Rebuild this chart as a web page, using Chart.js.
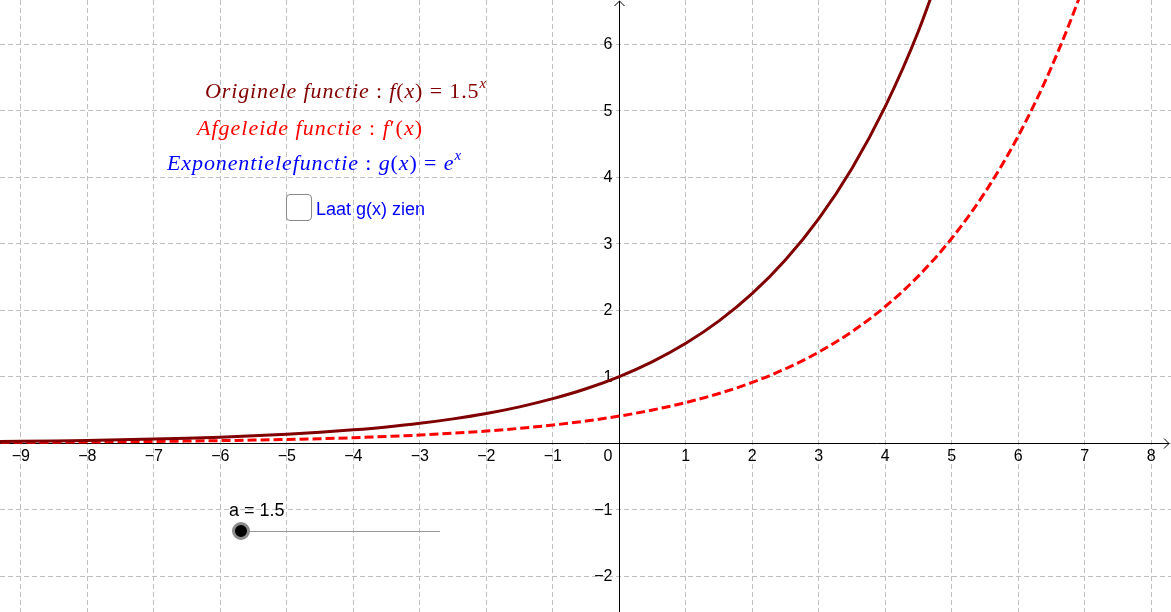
<!DOCTYPE html>
<html>
<head>
<title>Exponentiele functie</title>
<script src="https://cdn.jsdelivr.net/npm/chart.js"></script>
<style>
    body { margin: 0; background: #fff; }
    #wrap { position: relative; width: 1171px; height: 612px; overflow: hidden; }
    #grafiek { position: absolute; left: 0; top: 0; }
    .math { position: absolute; font-family: "Liberation Serif", "DejaVu Serif", serif; font-size: 22px; line-height: 1; white-space: nowrap; }
    .math sup { font-size: 15px; font-style: italic; vertical-align: 0; position: relative; top: -10px; line-height: 0; }
    .sans { position: absolute; font-family: "Liberation Sans", Arial, sans-serif; font-size: 18px; line-height: 1; white-space: nowrap; }
    #vakje { position: absolute; left: 286px; top: 194px; width: 26px; height: 27px; box-sizing: border-box; border: 1.5px solid #8a8a8a; border-radius: 4px; background: #fff; }
    #lijn { position: absolute; left: 241px; top: 531px; width: 199px; height: 1px; background: #999; }
    #knop { position: absolute; left: 232px; top: 522px; width: 12px; height: 12px; border: 3px solid #8c8c8c; border-radius: 50%; background: #000; }
</style>
</head>
<body>
<div id="wrap">
    <canvas id="grafiek" width="1171" height="612"></canvas>
    <div class="math" id="t1" style="left:205px; top:80px; color:#800000"><i>Originele functie</i> : <i>f</i>(<i>x</i>) = 1.5<sup>x</sup></div>
    <div class="math" id="t2" style="left:197px; top:117px; color:#ff0000"><i>Afgeleide functie</i> : <i>f</i>′(<i>x</i>)</div>
    <div class="math" id="t3" style="left:167px; top:152px; color:#0000ff"><i>Exponentielefunctie</i> : <i>g</i>(<i>x</i>) = <i>e</i><sup>x</sup></div>
    <div id="vakje"></div>
    <div class="sans" style="left:316px; top:200px; color:#0000ff">Laat g(x) zien</div>
    <div class="sans" style="left:229px; top:501px; color:#000">a = 1.5</div>
    <div id="lijn"></div>
    <div id="knop"></div>
</div>

<script>
    var xWaarden = [-9.5, -9, -8.5, -8, -7.5, -7, -6.5, -6, -5.5, -5, -4.5, -4, -3.5, -3, -2.5, -2, -1.5, -1, -0.5,
                    0, 0.5, 1, 1.5, 2, 2.5, 3, 3.5, 4, 4.5, 5, 5.5, 6, 6.5, 7, 7.5];
    var origineel = [0.021, 0.026, 0.032, 0.039, 0.048, 0.059, 0.072, 0.088, 0.108, 0.132, 0.161, 0.198, 0.242, 0.296,
                     0.363, 0.444, 0.544, 0.667, 0.816, 1.000, 1.225, 1.500, 1.837, 2.250, 2.756, 3.375, 4.133, 5.063, 6.200, 7.594];
    var afgeleide = [0.009, 0.011, 0.013, 0.016, 0.019, 0.024, 0.029, 0.036, 0.044, 0.053, 0.065, 0.080, 0.098, 0.120,
                     0.147, 0.180, 0.221, 0.270, 0.331, 0.405, 0.497, 0.608, 0.745, 0.912, 1.117, 1.368, 1.676, 2.053,
                     2.514, 3.079, 3.771, 4.619, 5.657, 6.928, 8.485];
    var xTicks = [-9, -8, -7, -6, -5, -4, -3, -2, -1, 0, 1, 2, 3, 4, 5, 6, 7, 8];
    var yTicks = [-2, -1, 0, 1, 2, 3, 4, 5, 6];

    function punten(ys) {
        return ys.map(function(y, i) { return {x: xWaarden[i], y: y}; });
    }
    function label(v) {
        return v < 0 ? '\u2212' + Math.abs(v) : String(v);
    }

    var assen = {
        id: 'assen',
        beforeDatasetsDraw: function(chart) {
            var ctx = chart.ctx, sx = chart.scales.x, sy = chart.scales.y;
            var x0 = Math.round(sx.getPixelForValue(0)) + 0.5;
            var y0 = Math.round(sy.getPixelForValue(0)) + 0.5;
            var w = chart.width, h = chart.height;
            ctx.save();
            ctx.strokeStyle = '#000';
            ctx.lineWidth = 1;
            ctx.beginPath();
            ctx.moveTo(0, y0); ctx.lineTo(w - 2, y0);
            ctx.moveTo(w - 7, y0 - 5); ctx.lineTo(w - 2, y0); ctx.lineTo(w - 7, y0 + 5);
            ctx.moveTo(x0, h); ctx.lineTo(x0, 1);
            ctx.moveTo(x0 - 5, 6); ctx.lineTo(x0, 1); ctx.lineTo(x0 + 5, 6);
            ctx.stroke();

            ctx.fillStyle = '#000';
            ctx.font = '16px "Liberation Sans", Arial, sans-serif';
            ctx.textAlign = 'center';
            ctx.textBaseline = 'top';
            xTicks.forEach(function(v) {
                if (v !== 0) ctx.fillText(label(v), sx.getPixelForValue(v), y0 + 5);
            });
            ctx.textAlign = 'right';
            ctx.fillText('0', x0 - 7, y0 + 5);
            ctx.textBaseline = 'middle';
            yTicks.forEach(function(v) {
                if (v !== 0) ctx.fillText(label(v), x0 - 7, sy.getPixelForValue(v) + 1);
            });
            ctx.restore();
        }
    };

    var grid = {color: '#c0c0c0', lineWidth: 1, drawTicks: false};

    var chart = new Chart(document.getElementById('grafiek').getContext('2d'), {
        type: 'line',
        data: {
            datasets: [
                {label: 'f(x)', data: punten(origineel), borderColor: '#800000', borderWidth: 3,
                 pointRadius: 0, cubicInterpolationMode: 'monotone', fill: false},
                {label: "f'(x)", data: punten(afgeleide), borderColor: '#ff0000', borderWidth: 3, borderDash: [9, 4],
                 pointRadius: 0, cubicInterpolationMode: 'monotone', fill: false}
            ]
        },
        options: {
            responsive: false,
            animation: false,
            layout: {padding: 0},
            plugins: {legend: {display: false}, tooltip: {enabled: false}},
            scales: {
                x: {
                    type: 'linear', min: -9.313, max: 8.296,
                    afterBuildTicks: function(s) { s.ticks = xTicks.map(function(v) { return {value: v}; }); },
                    ticks: {display: false},
                    grid: grid,
                    border: {display: false, dash: [5, 3]}
                },
                y: {
                    type: 'linear', min: -2.541, max: 6.662,
                    afterBuildTicks: function(s) { s.ticks = yTicks.map(function(v) { return {value: v}; }); },
                    ticks: {display: false},
                    grid: grid,
                    border: {display: false, dash: [5, 3]}
                }
            }
        },
        plugins: [assen]
    });

    // formules op breedte brengen zoals in het origineel
    function pasAan(id, breedte) {
        var el = document.getElementById(id);
        var n = el.textContent.length;
        var nu = el.getBoundingClientRect().width;
        el.style.letterSpacing = ((breedte - nu) / n) + 'px';
    }
    pasAan('t1', 282);
    pasAan('t2', 226);
    pasAan('t3', 295);
</script>
</body>
</html>
